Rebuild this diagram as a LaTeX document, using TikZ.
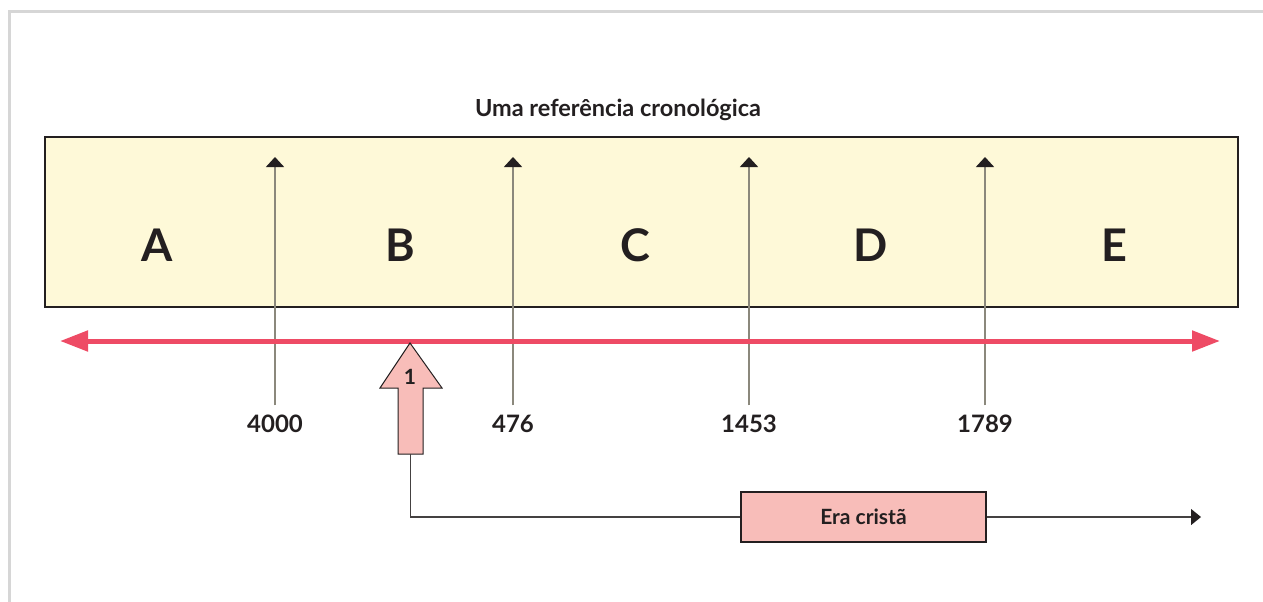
\documentclass[tikz,border=0pt]{standalone}
\usepackage{fontspec}
\setmainfont{Lato}
\usetikzlibrary{arrows.meta,positioning}

\definecolor{fundo}{HTML}{FEF9D8}
\definecolor{vermelho}{HTML}{EE4B65}
\definecolor{rosa}{HTML}{F8BDB9}
\definecolor{tinta}{HTML}{231F20}
\definecolor{haste}{HTML}{8B887C}
\definecolor{moldura}{HTML}{D6D6D6}

\tikzset{
  letra/.style={font=\bfseries\fontsize{45}{48}\selectfont, text=tinta},
  ano/.style={font=\bfseries\fontsize{24}{28}\selectfont, text=tinta,
    text height=17pt, text depth=0pt, inner ysep=10pt},
  marco/.style={draw=haste, line width=1.5pt, -{Triangle[length=10pt,width=18pt,color=tinta]}},
  eixo/.style={draw=vermelho, line width=5pt, {Triangle[length=28pt,width=20pt]}-{Triangle[length=28pt,width=20pt]}},
  ligacao/.style={draw=tinta!85, line width=1.2pt}
}

\begin{document}
\begin{tikzpicture}[x=1pt,y=-1pt]
	\useasboundingbox (0,0) rectangle (1263,602);
	\draw[moldura, line width=3pt] (9,602) -- (9,12) -- (1263,12);

	% titulo e faixa
	\node[font=\bfseries\fontsize{23.5}{26}\selectfont, text=tinta] (titulo) at (618,110) {Uma referência cronológica};
	\draw[fill=fundo, draw=tinta, line width=1.5pt] (45,137) rectangle (1238,307);
	\coordinate (topo) at (0,157);

	\node[letra] (A) at (157,245) {A};
	\node[letra] (B) at (400,245) {B};
	\node[letra] (C) at (635,245) {C};
	\node[letra] (D) at (871,245) {D};
	\node[letra] (E) at (1114,245) {E};

	% marcos
	\node[ano] (a4000) at (275,424) {4000};
	\node[ano] (a476) at (513,424) {476};
	\node[ano] (a1453) at (749,424) {1453};
	\node[ano] (a1789) at (985,424) {1789};
	\foreach \m in {a4000,a476,a1453,a1789}
		\draw[marco] (\m.north) -- (\m.north |- topo);

	% eixo do tempo
	\draw[eixo] (60,341) -- (1220,341);

	% seta 1
	\draw[fill=rosa, draw=tinta, line width=1pt, line join=miter]
		(410,343) -- (442,388) -- (423,388) -- (423,454) -- (398,454) -- (398,388) -- (380,388) -- cycle;
	\coordinate (seta1) at (410.5,454);
	\node[font=\bfseries\fontsize{21}{24}\selectfont, text=tinta] (um) at (410,377) {1};

	% era crista
	\node[draw=tinta, line width=1.2pt, fill=rosa, minimum width=245pt, minimum height=50pt,
		font=\bfseries\fontsize{21}{24}\selectfont, text=tinta] (era) at (863.5,517) {Era cristã};
	\coordinate (fim) at (1201,517);
	\draw[ligacao] (seta1) |- (era.west);
	\draw[ligacao, -{Triangle[length=10pt,width=16pt,color=tinta]}] (era.east) -- (fim);
\end{tikzpicture}
\end{document}
